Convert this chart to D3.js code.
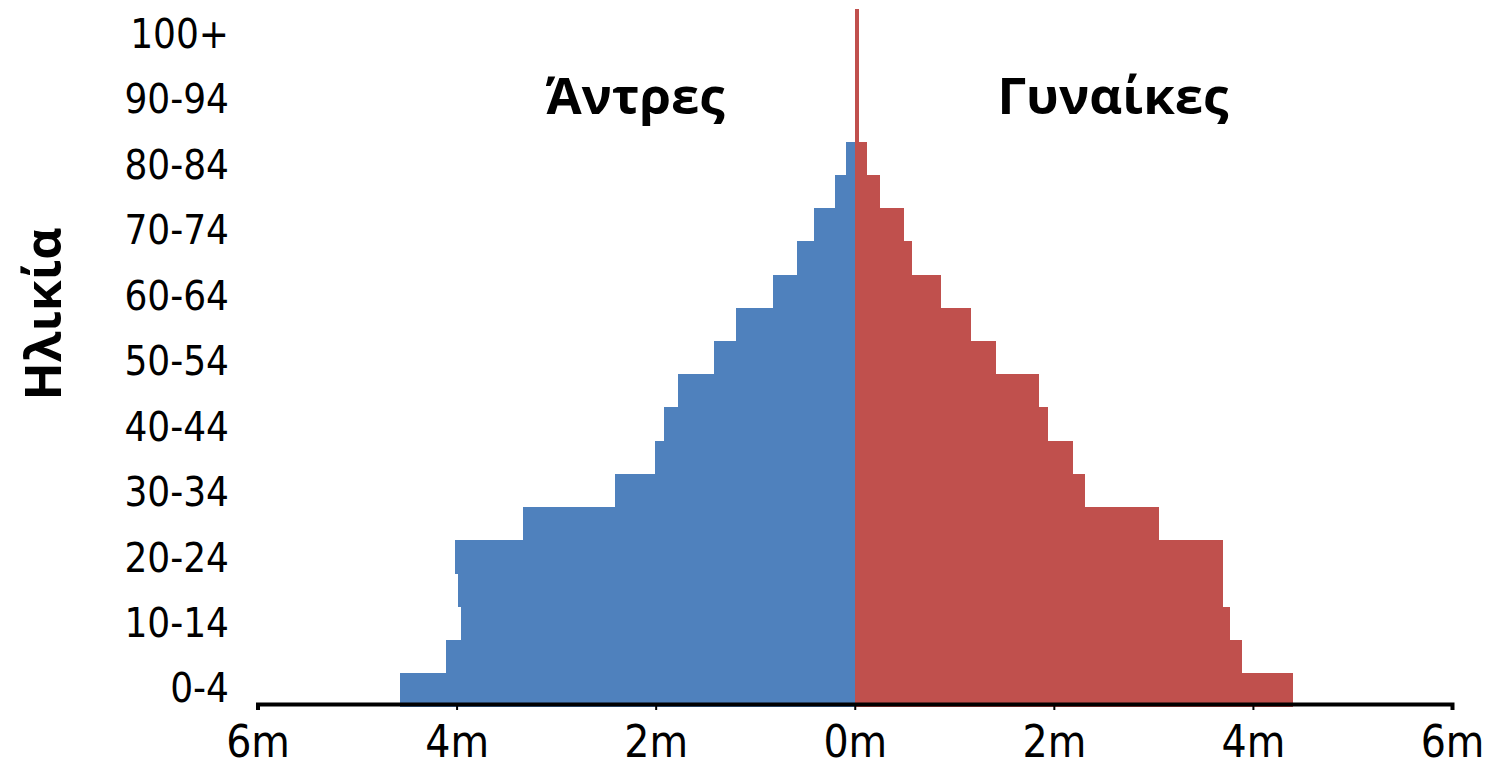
<!DOCTYPE html>
<html>
<head>
<meta charset="utf-8">
<script src="https://cdn.jsdelivr.net/npm/d3@7"></script>
<style>
  html, body { margin: 0; padding: 0; background: #fff; }
  svg { display: block; }
</style>
</head>
<body>
<svg id="chart" width="1486" height="770"></svg>
<script>
const ageGroups = ["0-4","5-9","10-14","15-19","20-24","25-29","30-34","35-39","40-44","45-49",
  "50-54","55-59","60-64","65-69","70-74","75-79","80-84","85-89","90-94","95-99","100+"];
const males   = [4.57,4.11,3.96,3.99,4.02,3.33,2.41,2.01,1.92,1.78,1.41,1.19,0.82,0.58,0.41,0.20,0.09,0,0,0,0];
const females = [4.40,3.89,3.77,3.70,3.70,3.06,2.31,2.19,1.94,1.85,1.42,1.17,0.87,0.58,0.49,0.25,0.12,0.04,0.04,0.04,0.04];
const xTicks = [-6,-4,-2,0,2,4,6];
const labelGroups = ageGroups.filter((d,i) => i % 2 === 0);
const maleLabel = "Άντρες";
const femaleLabel = "Γυναίκες";
const axisTitle = "Ηλικία";

const svg = d3.select("#chart");
const x = d3.scaleLinear().domain([-6, 6]).range([257.5, 1452]);
const y = d3.scaleBand().domain(ageGroups).range([706.2, 9]).padding(0);
const yLab = d3.scalePoint().domain(ageGroups).range([687.5, 33]);

const numFont = "'DejaVu Sans Condensed', 'DejaVu Sans', sans-serif";

// bars
svg.append("g").attr("shape-rendering", "crispEdges").selectAll("rect").data(ageGroups).join("rect")
  .attr("x", (d,i) => x(-males[i]))
  .attr("y", d => y(d))
  .attr("width", (d,i) => x(0) - x(-males[i]))
  .attr("height", y.bandwidth() + 0.5)
  .attr("fill", "#4f81bd");

svg.append("g").attr("shape-rendering", "crispEdges").selectAll("rect").data(ageGroups).join("rect")
  .attr("x", x(0))
  .attr("y", d => y(d))
  .attr("width", (d,i) => x(females[i]) - x(0))
  .attr("height", y.bandwidth() + 0.5)
  .attr("fill", "#c0504d");

// x axis
const xAxis = d3.axisBottom(x).tickValues(xTicks)
  .tickFormat(d => Math.abs(d) + "m")
  .tickSize(6).tickSizeOuter(6).tickPadding(16);
const gx = svg.append("g").attr("transform", "translate(0,704)").call(xAxis);
gx.select(".domain").attr("stroke", "#000").attr("stroke-width", 4);
gx.selectAll(".tick line").attr("stroke", "#000").attr("stroke-width", 2);
gx.selectAll(".tick text").attr("fill", "#000")
  .style("font-family", numFont).style("font-stretch", "condensed").style("font-size", "44px");

// y axis labels
const yAxis = d3.axisLeft(yLab).tickValues(labelGroups).tickSize(0).tickPadding(0);
const gy = svg.append("g").attr("transform", "translate(229,0)").call(yAxis);
gy.select(".domain").remove();
gy.selectAll(".tick text").attr("fill", "#000").attr("dy", "0.36em")
  .style("font-family", numFont).style("font-stretch", "condensed").style("font-size", "40px");

// titles
const titleFont = "'Open Sans', 'Noto Sans', sans-serif";
svg.append("text").attr("x", 635).attr("y", 114).attr("text-anchor", "middle")
  .style("font-family", titleFont).style("font-weight", "bold").style("font-size", "51px")
  .text(maleLabel);
svg.append("text").attr("x", 1113).attr("y", 114).attr("text-anchor", "middle")
  .style("font-family", titleFont).style("font-weight", "bold").style("font-size", "51px")
  .text(femaleLabel);
svg.append("text").attr("transform", "translate(61,314) rotate(-90)").attr("text-anchor", "middle")
  .style("font-family", titleFont).style("font-weight", "bold").style("font-size", "50px")
  .text(axisTitle);
</script>
</body>
</html>
